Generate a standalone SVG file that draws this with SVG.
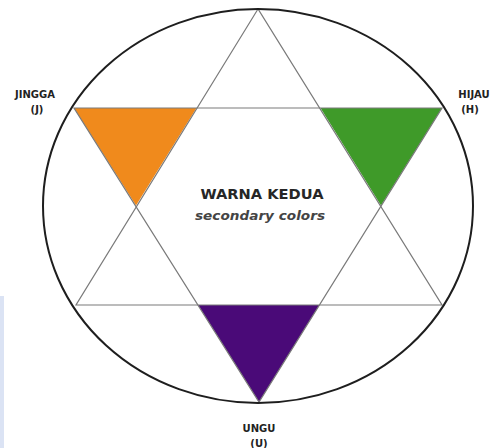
<svg xmlns="http://www.w3.org/2000/svg" width="493" height="448" viewBox="0 0 493 448">
<style>
.lbl{font-family:"DejaVu Sans",Verdana,sans-serif;font-weight:bold;font-size:10px;fill:#222;text-anchor:middle}
.star{fill:none;stroke:#7a7a7a;stroke-width:1.2}
</style>
<rect width="493" height="448" fill="#ffffff"/>
<rect x="0" y="296" width="4" height="152" fill="#dbe3f4"/>
<g id="colors">
<polygon id="orange" points="74,108 196.5,108 136,205.5" fill="#f08a1c"/>
<polygon id="green" points="320.5,108 442,108 381,205.5" fill="#3f9a29"/>
<polygon id="purple" points="198,305 319.5,305 259,402" fill="#4a0a78"/>
</g>
<g id="star">
<polygon class="star" points="258,9 76,305 442,305"/>
<polygon class="star" points="74,108 442,108 259,402"/>
</g>
<ellipse id="circle" cx="258" cy="206" rx="215" ry="197" fill="none" stroke="#1e1e1e" stroke-width="2"/>
<g id="center-label">
<text x="262" y="199" font-family="'DejaVu Sans',Verdana,sans-serif" font-weight="bold" font-size="14.5" fill="#262626" text-anchor="middle" textLength="123" lengthAdjust="spacingAndGlyphs">WARNA KEDUA</text>
<text x="260" y="220" font-family="'DejaVu Sans',Verdana,sans-serif" font-weight="bold" font-style="italic" font-size="12.5" fill="#444" text-anchor="middle" textLength="130" lengthAdjust="spacingAndGlyphs">secondary colors</text>
</g>
<g id="jingga"><text class="lbl" x="35" y="98">JINGGA</text><text class="lbl" x="37" y="113">(J)</text></g>
<g id="hijau"><text class="lbl" x="474" y="98">HIJAU</text><text class="lbl" x="470" y="113">(H)</text></g>
<g id="ungu"><text class="lbl" x="259" y="432">UNGU</text><text class="lbl" x="259" y="447">(U)</text></g>
</svg>
